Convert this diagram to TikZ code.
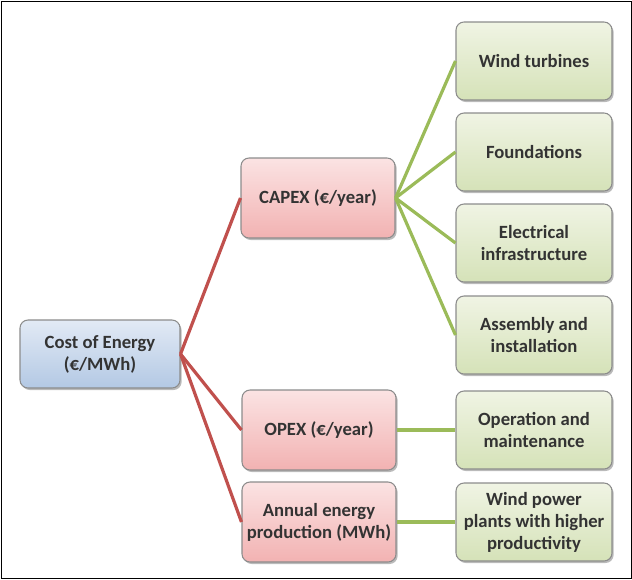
\documentclass[tikz,border=0pt]{standalone}
\usepackage{fontspec}
\setmainfont{Carlito}
\usetikzlibrary{shadows}
\definecolor{redline}{HTML}{C0504D}
\definecolor{greenline}{HTML}{9BBB59}
\definecolor{boxedge}{HTML}{8C8C8C}
\definecolor{bluetop}{HTML}{E2EAF5}
\definecolor{bluebot}{HTML}{B3C8E4}
\definecolor{redtop}{HTML}{FBE3E3}
\definecolor{redbot}{HTML}{F2B2B2}
\definecolor{greentop}{HTML}{F0F4E4}
\definecolor{greenbot}{HTML}{D5E2B8}
\tikzset{
    box/.style={draw=boxedge, line width=0.8pt, rounded corners=6pt, align=center,
        font=\bfseries\fontsize{14}{16.5}\selectfont, text=black!80,
        drop shadow={shadow xshift=1.2pt, shadow yshift=-1.5pt, fill=black!60, opacity=0.45}},
    costbox/.style={box, top color=bluetop, bottom color=bluebot,
        minimum width=120pt, minimum height=51pt},
    redbox/.style={box, top color=redtop, bottom color=redbot,
        minimum width=115.5pt, minimum height=60pt, inner xsep=1pt},
    greenbox/.style={box, top color=greentop, bottom color=greenbot,
        minimum width=117pt, minimum height=58.5pt, inner xsep=1pt},
    redlink/.style={draw=redline, line width=2.4pt},
    greenlink/.style={draw=greenline, line width=2.4pt}
}
\begin{document}
\begin{tikzpicture}[x=0.75pt, y=-0.75pt]
    \useasboundingbox (0,0) rectangle (632,579);
    \draw [black, line width=0.6pt] (1,1) rectangle (631,578);
    \node [costbox] (cost) at (100,354) {Cost of Energy\\(€/MWh)};
    \node [redbox] (capex) at (318,198) {CAPEX (€/year)};
    \node [redbox] (opex) at (319,430) {OPEX (€/year)};
    \node [redbox] (aep) at (319,522) {Annual energy\\production (MWh)};
    \node [greenbox] (wind) at (534,61) {Wind turbines};
    \node [greenbox] (found) at (534,152) {Foundations};
    \node [greenbox] (elec) at (534,243) {Electrical\\infrastructure};
    \node [greenbox] (assy) at (534,335) {Assembly and\\installation};
    \node [greenbox] (om) at (534,430) {Operation and\\maintenance};
    \node [greenbox] (plants) at (534,522) {Wind power\\plants with higher\\productivity};
    \foreach \n in {capex, opex, aep}
        \draw [redlink] (cost.east) -- (\n.west);
    \foreach \n in {wind, found, elec, assy}
        \draw [greenlink] (capex.east) -- (\n.west);
    \draw [greenlink] (opex.east) -- (om.west);
    \draw [greenlink] (aep.east) -- (plants.west);
\end{tikzpicture}
\end{document}
